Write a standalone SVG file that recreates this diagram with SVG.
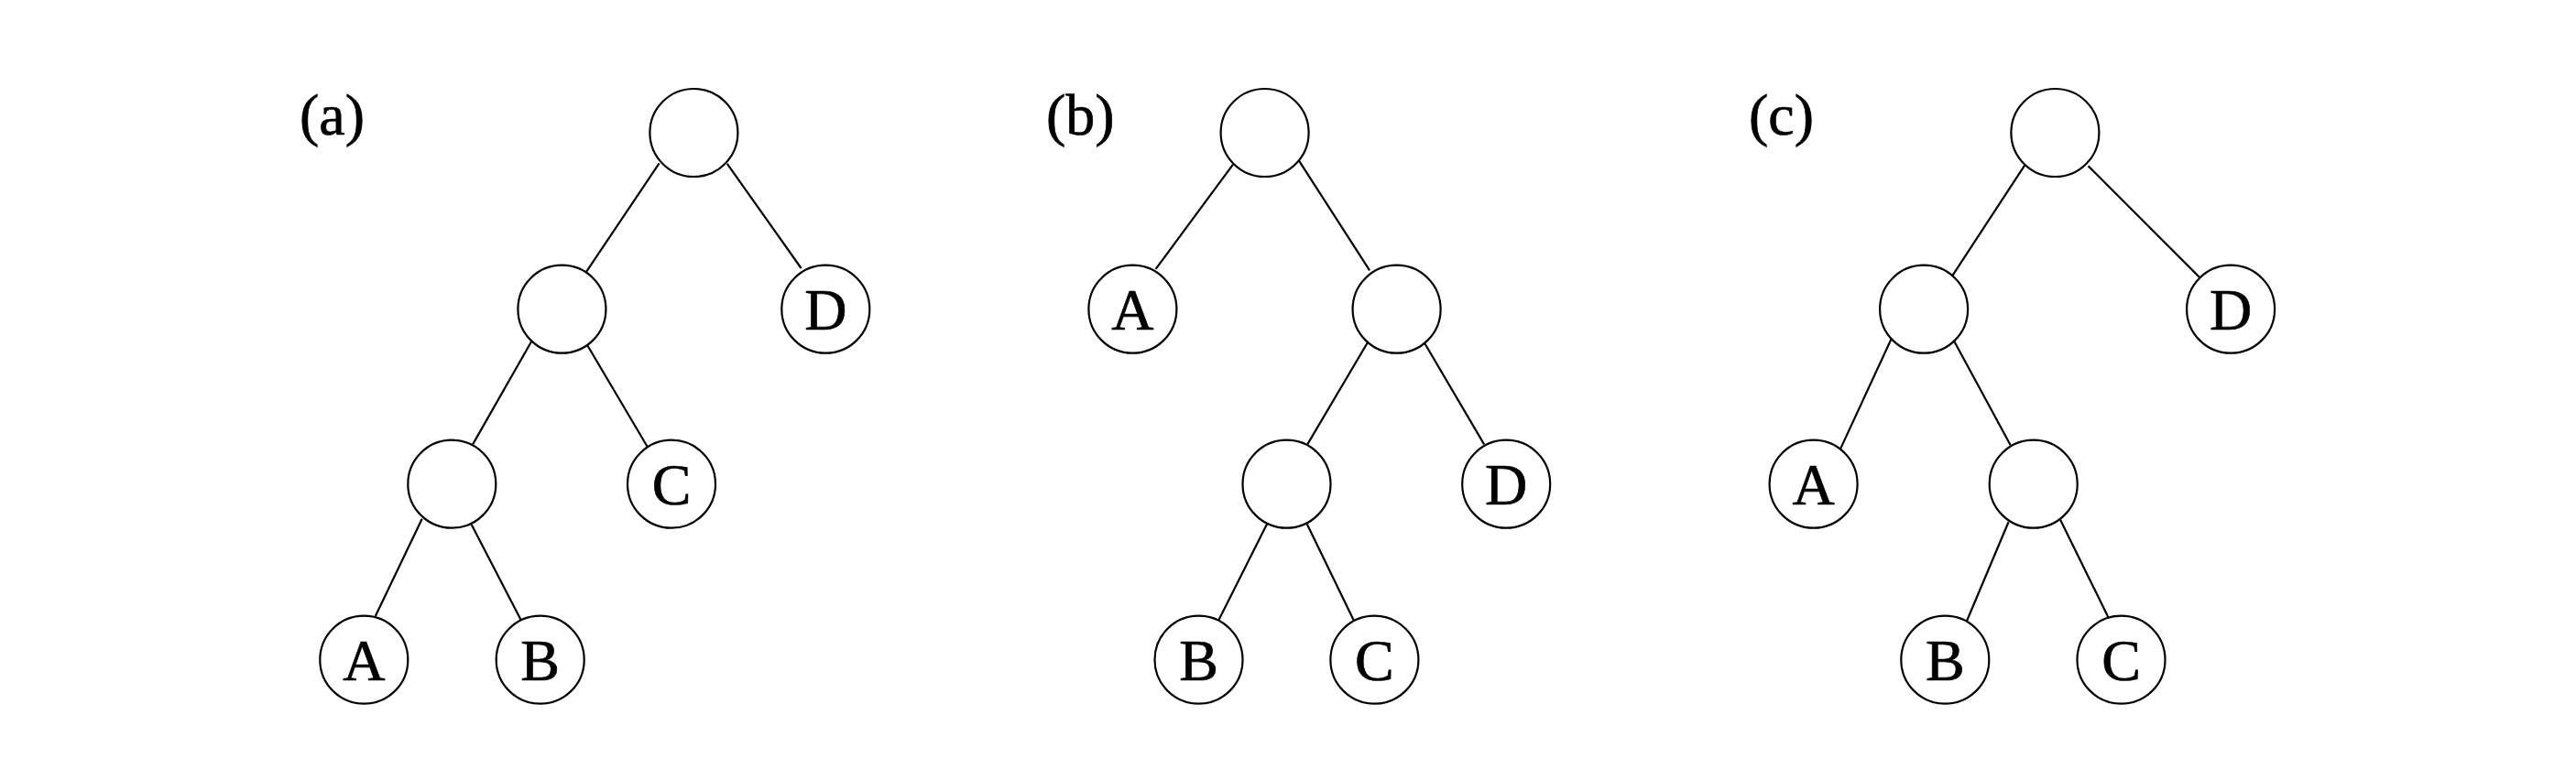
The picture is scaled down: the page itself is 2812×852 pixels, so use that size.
<svg xmlns="http://www.w3.org/2000/svg" width="2812" height="852" viewBox="0 0 2812 852">
<style>
.n{fill:#fff;stroke:#000;stroke-width:2.2}
.e{stroke:#000;stroke-width:2.2;fill:none}
.t{font-family:"Liberation Serif","Times New Roman",serif;font-size:64px;fill:#000;stroke:#000;stroke-width:0.7;text-anchor:middle}
.lbl{font-family:"Liberation Serif","Times New Roman",serif;font-size:64px;fill:#000;stroke:#000;stroke-width:0.7}
</style>
<rect width="2812" height="852" fill="#fff"/>
<g id="connectors">
<line class="e" x1="719.6" y1="178.3" x2="640.2" y2="296.6"/>
<line class="e" x1="793.8" y1="178.8" x2="874.6" y2="293"/>
<line class="e" x1="580.4" y1="372.5" x2="516.1" y2="485.4"/>
<line class="e" x1="641.1" y1="377" x2="707.6" y2="489.5"/>
<line class="e" x1="460.7" y1="566.7" x2="409.8" y2="672.9"/>
<line class="e" x1="514.7" y1="573" x2="568.8" y2="677.4"/>
<line class="e" x1="1346" y1="179.6" x2="1261.6" y2="293.9"/>
<line class="e" x1="1417.4" y1="174.7" x2="1495.1" y2="295.3"/>
<line class="e" x1="1494.6" y1="371.2" x2="1427.2" y2="485.4"/>
<line class="e" x1="1554.5" y1="373.8" x2="1620.1" y2="485.4"/>
<line class="e" x1="1383" y1="572.5" x2="1329.9" y2="678.3"/>
<line class="e" x1="1426.8" y1="572.5" x2="1478.1" y2="678.3"/>
<line class="e" x1="2210.8" y1="179.6" x2="2131.3" y2="301.1"/>
<line class="e" x1="2279.6" y1="181.4" x2="2401" y2="302.9"/>
<line class="e" x1="2064.8" y1="369.8" x2="2009" y2="490.4"/>
<line class="e" x1="2133.1" y1="372.5" x2="2194.7" y2="486.3"/>
<line class="e" x1="2192.5" y1="570.3" x2="2147" y2="678.3"/>
<line class="e" x1="2249.2" y1="568" x2="2301.9" y2="675.2"/>
</g>
<g id="labels">
<text class="lbl" x="327" y="147">(a)</text>
<text class="lbl" x="1142" y="147">(b)</text>
<text class="lbl" x="1909" y="147">(c)</text>
</g>
<g id="a-root"><circle class="n" cx="757.4" cy="145" r="48"/></g>
<g id="a-n1"><circle class="n" cx="613.4" cy="337.7" r="48"/></g>
<g id="a-D"><circle class="n" cx="901.3" cy="337.7" r="48"/><text class="t" x="901.3" y="359.7">D</text></g>
<g id="a-n2"><circle class="n" cx="493.3" cy="528.7" r="48"/></g>
<g id="a-C"><circle class="n" cx="733" cy="528.7" r="48"/><text class="t" x="733" y="550.7">C</text></g>
<g id="a-A"><circle class="n" cx="397.3" cy="720.7" r="48"/><text class="t" x="397.3" y="742.7">A</text></g>
<g id="a-B"><circle class="n" cx="589.7" cy="720.7" r="48"/><text class="t" x="589.7" y="742.7">B</text></g>
<g id="b-root"><circle class="n" cx="1380.6" cy="145" r="48"/></g>
<g id="b-A"><circle class="n" cx="1236.4" cy="337.7" r="48"/><text class="t" x="1236.4" y="359.7">A</text></g>
<g id="b-n1"><circle class="n" cx="1524.6" cy="337.7" r="48"/></g>
<g id="b-n2"><circle class="n" cx="1404.5" cy="528.7" r="48"/></g>
<g id="b-D"><circle class="n" cx="1644.2" cy="528.7" r="48"/><text class="t" x="1644.2" y="550.7">D</text></g>
<g id="b-B"><circle class="n" cx="1308.5" cy="720.7" r="48"/><text class="t" x="1308.5" y="742.7">B</text></g>
<g id="b-C"><circle class="n" cx="1500.4" cy="720.7" r="48"/><text class="t" x="1500.4" y="742.7">C</text></g>
<g id="c-root"><circle class="n" cx="2243.4" cy="145" r="48"/></g>
<g id="c-n1"><circle class="n" cx="2100.1" cy="337.7" r="48"/></g>
<g id="c-D"><circle class="n" cx="2435.1" cy="337.7" r="48"/><text class="t" x="2435.1" y="359.7">D</text></g>
<g id="c-A"><circle class="n" cx="1979.6" cy="528.7" r="48"/><text class="t" x="1979.6" y="550.7">A</text></g>
<g id="c-n2"><circle class="n" cx="2219.7" cy="528.7" r="48"/></g>
<g id="c-B"><circle class="n" cx="2123.3" cy="720.7" r="48"/><text class="t" x="2123.3" y="742.7">B</text></g>
<g id="c-C"><circle class="n" cx="2315.5" cy="720.7" r="48"/><text class="t" x="2315.5" y="742.7">C</text></g>
</svg>
